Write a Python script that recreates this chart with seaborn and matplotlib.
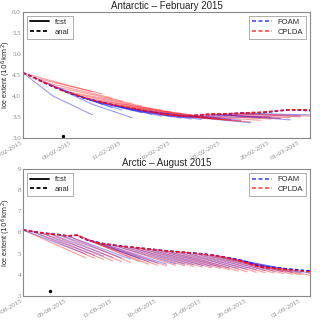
import numpy as np
import pandas as pd
import matplotlib
matplotlib.use("Agg")
import matplotlib.pyplot as plt
import matplotlib.dates as mdates
from matplotlib.lines import Line2D
import seaborn as sns

# ---------------- data ----------------
ant_start = "2015-02-01"
ant_end = "2015-03-02"
ant_foam_anal = [4.55, 4.45, 4.33, 4.22, 4.13, 4.04, 3.96, 3.90, 3.85, 3.79,
                 3.74, 3.70, 3.66, 3.62, 3.58, 3.54, 3.51, 3.52, 3.55, 3.56,
                 3.56, 3.57, 3.59, 3.60, 3.60, 3.62, 3.65, 3.67, 3.66, 3.65]
ant_cplda_anal = [4.55, 4.44, 4.33, 4.23, 4.12, 4.05, 3.97, 3.90, 3.84, 3.79,
                  3.75, 3.70, 3.66, 3.61, 3.57, 3.54, 3.52, 3.53, 3.55, 3.57,
                  3.57, 3.58, 3.59, 3.60, 3.61, 3.63, 3.65, 3.67, 3.67, 3.66]
# forecasts: value at lead 3 days and lead 7 days, one per start day
ant_foam_fc_mid = [4.00, 4.15, 4.05, 3.96, 3.80, 3.83, 3.77, 3.72, 3.68, 3.64,
                   3.60, 3.57, 3.56, 3.55, 3.52, 3.49, 3.45, 3.50, 3.53, 3.52,
                   3.50, 3.55, 3.57]
ant_foam_fc_end = [3.55, 3.80, 3.72, 3.66, 3.48, 3.60, 3.56, 3.52, 3.50, 3.47,
                   3.45, 3.44, 3.46, 3.47, 3.45, 3.42, 3.36, 3.48, 3.50, 3.47,
                   3.43, 3.52, 3.55]
ant_cplda_fc_mid = [4.35, 4.27, 4.17, 4.08, 3.99, 3.92, 3.85, 3.80, 3.75, 3.70,
                    3.66, 3.62, 3.58, 3.54, 3.50, 3.48, 3.46, 3.48, 3.50, 3.52,
                    3.53, 3.55, 3.56]
ant_cplda_fc_end = [4.10, 4.05, 3.95, 3.88, 3.82, 3.76, 3.70, 3.66, 3.62, 3.58,
                    3.55, 3.52, 3.48, 3.45, 3.42, 3.40, 3.38, 3.42, 3.45, 3.46,
                    3.48, 3.50, 3.52]

arc_start = "2015-08-01"
arc_end = "2015-09-02"
arc_foam_anal = [6.12, 6.05, 5.99, 5.94, 5.90, 5.83, 5.87, 5.67, 5.56, 5.47,
                 5.41, 5.36, 5.31, 5.27, 5.22, 5.18, 5.13, 5.10, 5.06, 5.03,
                 4.99, 4.94, 4.87, 4.80, 4.72, 4.60, 4.45, 4.38, 4.35, 4.30,
                 4.26, 4.22, 4.18]
arc_cplda_anal = [6.12, 6.06, 5.99, 5.93, 5.89, 5.84, 5.88, 5.68, 5.55, 5.46,
                  5.41, 5.35, 5.31, 5.26, 5.22, 5.17, 5.13, 5.09, 5.06, 5.02,
                  4.98, 4.93, 4.86, 4.78, 4.69, 4.55, 4.40, 4.33, 4.31, 4.27,
                  4.22, 4.18, 4.14]
arc_foam_fc_end = [4.98, 4.92, 4.88, 4.82, 4.80, 4.74, 4.78, 4.62, 4.55, 4.50,
                   4.52, 4.50, 4.47, 4.44, 4.40, 4.37, 4.33, 4.30, 4.26, 4.23,
                   4.20, 4.17, 4.15, 4.12, 4.10, 4.08]
arc_cplda_fc_end = [4.80, 4.78, 4.72, 4.66, 4.62, 4.58, 4.62, 4.50, 4.45, 4.42,
                    4.45, 4.43, 4.40, 4.37, 4.33, 4.30, 4.25, 4.18, 4.14, 4.12,
                    4.10, 4.08, 4.06, 4.03, 4.00, 3.98]

ant_dot_date, ant_dot_val = ["2015-02-05"], [3.05]
arc_dot_date, arc_dot_val = ["2015-08-04"], [3.25]

FC_LEAD = 7
MID_LEAD = 3
COLORS = {"FOAM": "#1010ff", "CPLDA": "#ff1010"}
DASH = (0, (2.2, 1.4))


def build(start, anal_f, anal_c, fc_f_end, fc_c_end, fc_f_mid=None, fc_c_mid=None):
    dates = pd.date_range(start, periods=len(anal_f), freq="D")
    anal = pd.concat([
        pd.DataFrame({"date": dates, "value": anal_f, "model": "FOAM"}),
        pd.DataFrame({"date": dates, "value": anal_c, "model": "CPLDA"}),
    ], ignore_index=True)
    rows = []
    for model, anal_v, ends, mids in (("FOAM", anal_f, fc_f_end, fc_f_mid),
                                      ("CPLDA", anal_c, fc_c_end, fc_c_mid)):
        for s, e in enumerate(ends):
            d0 = dates[s]
            rows.append((d0, anal_v[s], model, s))
            if mids is not None:
                rows.append((d0 + pd.Timedelta(days=MID_LEAD), mids[s], model, s))
            rows.append((d0 + pd.Timedelta(days=FC_LEAD), e, model, s))
    fc = pd.DataFrame(rows, columns=["date", "value", "model", "start"])
    return anal, fc


sns.set_style("white")
plt.rcParams["font.family"] = ["Liberation Sans", "DejaVu Sans"]

fig = plt.figure(figsize=(3.2, 3.2), dpi=100)
ax1 = fig.add_axes([0.072, 0.569, 0.897, 0.394])
ax2 = fig.add_axes([0.072, 0.075, 0.897, 0.397])

panels = [
    (ax1, "Antarctic \u2013 February 2015", ant_start, ant_end, (3.0, 6.0),
     np.arange(3.0, 6.01, 0.5), "{:.1f}",
     build(ant_start, ant_foam_anal, ant_cplda_anal, ant_foam_fc_end, ant_cplda_fc_end,
           ant_foam_fc_mid, ant_cplda_fc_mid), (ant_dot_date, ant_dot_val)),
    (ax2, "Arctic \u2013 August 2015", arc_start, arc_end, (3.0, 9.0),
     np.arange(3, 10, 1), "{:.0f}",
     build(arc_start, arc_foam_anal, arc_cplda_anal, arc_foam_fc_end, arc_cplda_fc_end),
     (arc_dot_date, arc_dot_val)),
]

for ax, title, x0, x1, ylim, yt, fmt, (anal, fc), (dd, dv) in panels:
    sns.lineplot(data=fc, x="date", y="value", hue="model", units="start",
                 estimator=None, palette=COLORS, lw=0.8, alpha=0.42,
                 legend=False, ax=ax)
    sns.lineplot(data=anal, x="date", y="value", hue="model", palette=COLORS,
                 lw=1.15, legend=False, ax=ax, dashes=False)
    for ln in ax.lines[-2:]:
        ln.set_linestyle(DASH)
    ax.scatter(pd.to_datetime(dd), dv, s=2, color="black", zorder=5)

    ax.set_xlim(pd.Timestamp(x0), pd.Timestamp(x1))
    ax.set_ylim(*ylim)
    ax.set_yticks(yt)
    ax.set_yticklabels([fmt.format(v) for v in yt], fontsize=5, color="#888888",
                       family=["Liberation Serif"])
    ax.xaxis.set_major_locator(mdates.DayLocator(bymonthday=[1, 6, 11, 16, 21, 26]))
    ax.xaxis.set_minor_locator(mdates.DayLocator())
    ax.xaxis.set_major_formatter(mdates.DateFormatter("%d-%m-%Y"))
    for lab in ax.get_xticklabels():
        lab.set_rotation(30)
        lab.set_ha("right")
        lab.set_fontsize(5)
        lab.set_color("#888888")
        lab.set_family(["Liberation Serif"])
    ax.tick_params(axis="both", which="both", direction="in", colors="#888888",
                   pad=1.5)
    ax.tick_params(axis="both", which="major", length=3, width=0.5)
    ax.tick_params(axis="x", which="minor", length=1.5, width=0.5)
    for sp in ax.spines.values():
        sp.set_color("#888888")
        sp.set_linewidth(0.8)
    ax.set_xlabel("")
    ax.set_ylabel(r"Ice extent ($10^6\,\mathrm{km}^2$)", fontsize=5.2)
    ax.yaxis.set_label_coords(-0.036, 0.5)
    ax.set_title(title, fontsize=7, pad=2)

    h1 = [Line2D([], [], color="black", lw=1.3),
          Line2D([], [], color="black", lw=1.3, ls=DASH)]
    leg1 = ax.legend(h1, ["fcst", "anal"], loc="upper left", fontsize=5.5,
                     frameon=True, fancybox=False, edgecolor="#888888",
                     handlelength=2.5, borderpad=0.4, labelspacing=0.3)
    leg1.get_frame().set_linewidth(0.6)
    ax.add_artist(leg1)
    h2 = [Line2D([], [], color=COLORS["FOAM"], lw=1.3, ls=DASH, alpha=0.7),
          Line2D([], [], color=COLORS["CPLDA"], lw=1.3, ls=DASH, alpha=0.7)]
    leg2 = ax.legend(h2, ["FOAM", "CPLDA"], loc="upper right", fontsize=5.5,
                     frameon=True, fancybox=False, edgecolor="#888888",
                     handlelength=2.5, borderpad=0.4, labelspacing=0.3)
    leg2.get_frame().set_linewidth(0.6)

fig.savefig("out.png", dpi=100)
